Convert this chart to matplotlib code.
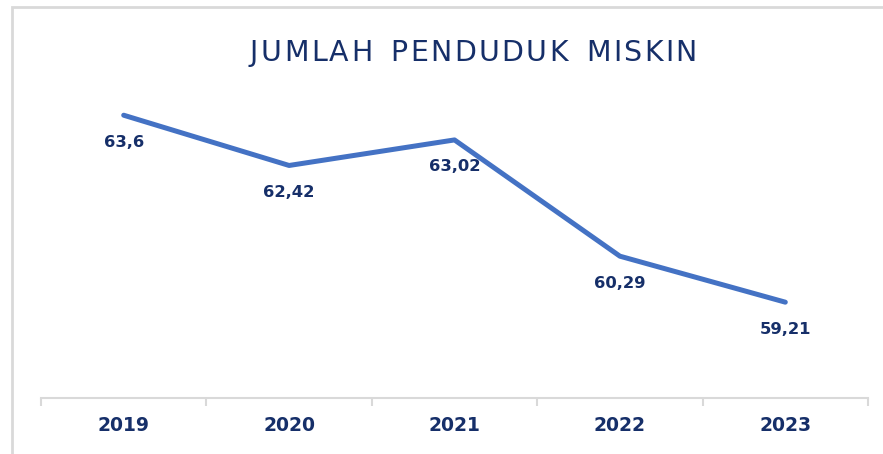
import matplotlib
matplotlib.use("Agg")
import matplotlib.pyplot as plt
from matplotlib.patches import Rectangle

years = ["2019", "2020", "2021", "2022", "2023"]
values = [63.6, 62.42, 63.02, 60.29, 59.21]
labels = ["63,6", "62,42", "63,02", "60,29", "59,21"]
title = "JUMLAH PENDUDUK MISKIN"

W, H = 883, 454
fig = plt.figure(figsize=(W / 100, H / 100), dpi=100)
navy = "#162F69"
line_c = "#4472C4"
grid_c = "#D9D9D9"

# outer border
fig.patches.append(Rectangle((12 / W, -0.1), 1.2, (H - 7) / H + 0.1, transform=fig.transFigure,
                             fill=False, edgecolor=grid_c, linewidth=2))

y_top = 55.6
ax = fig.add_axes([41 / W, (H - 398) / H, (868 - 41) / W, (398 - y_top) / H])
x = list(range(len(years)))
ax.plot(x, values, color=line_c, linewidth=3.6, solid_capstyle="round")
ax.set_xlim(-0.5, len(years) - 0.5)
ax.set_ylim(56.96, 65)

for xi, v, lab in zip(x, values, labels):
    ax.annotate(lab, (xi, v), xytext=(0, -27), textcoords="offset pixels",
                ha="center", va="center", fontsize=11.8, fontweight="bold", color=navy)

for s in ["top", "right", "left"]:
    ax.spines[s].set_visible(False)
ax.spines["bottom"].set_color(grid_c)
ax.spines["bottom"].set_linewidth(1.5)
ax.set_yticks([])
ax.set_xticks(x)
ax.set_xticklabels(years, fontsize=13.5, fontweight="bold", color=navy)
ax.tick_params(axis="x", which="major", length=0, pad=13)
ax.set_xticks([i - 0.5 for i in range(len(years) + 1)], minor=True)
ax.tick_params(axis="x", which="minor", length=6, width=1.5, color=grid_c)
ax.patch.set_alpha(0)

# letter-spaced title
renderer = fig.canvas.get_renderer()
fs = 20.5
chars = []
widths = []
for ch in title:
    t = fig.text(0, 0, ch if ch != " " else "n", fontsize=fs, color=navy, va="center", ha="left")
    w = t.get_window_extent(renderer).width
    if ch == " ":
        w *= 0.75
        t.set_visible(False)
    chars.append(t)
    widths.append(w)
target_w = 697 - 250
spacing = (target_w - sum(widths)) / (len(title) - 1)
xpos = 250
for t, w in zip(chars, widths):
    t.set_position((xpos / W, (H - 53) / H))
    xpos += w + spacing

fig.savefig("out.png", dpi=100)
